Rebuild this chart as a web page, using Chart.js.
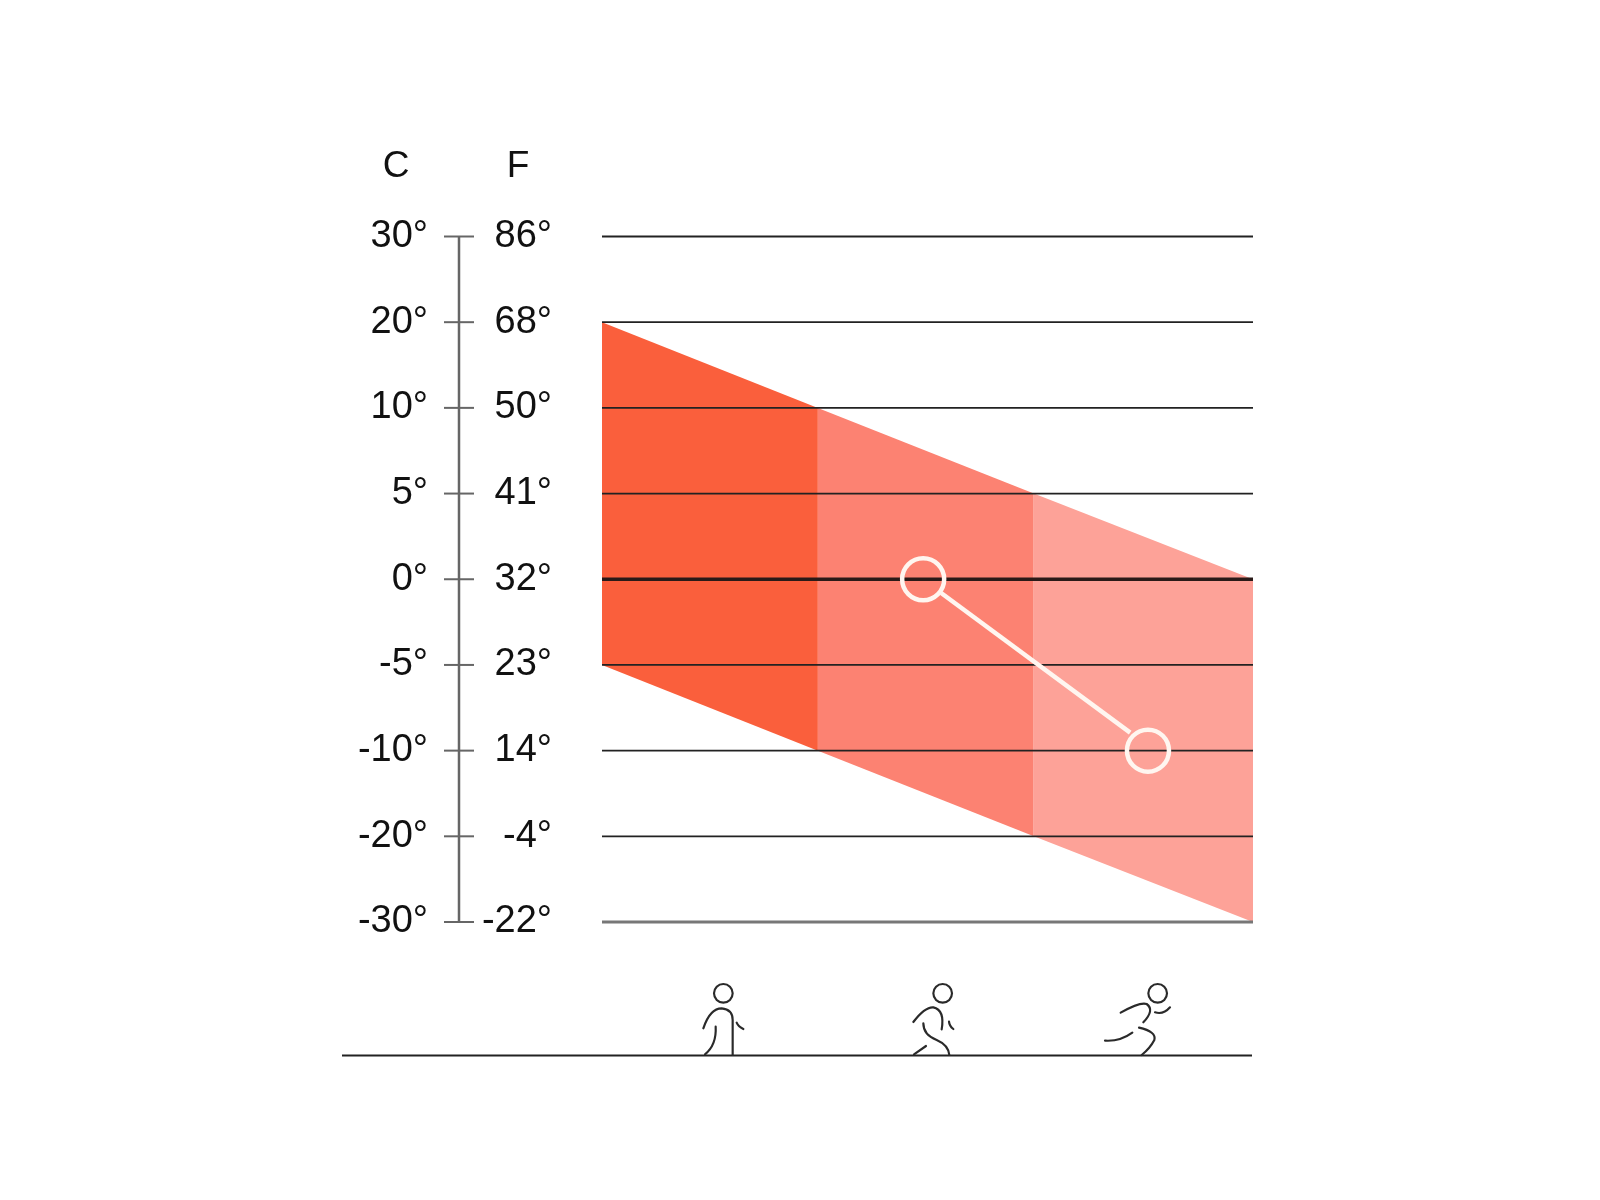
<!DOCTYPE html>
<html><head><meta charset="utf-8">
<style>html,body{margin:0;padding:0;background:#fff}#w{width:1600px;height:1200px}</style>
<script src="https://cdn.jsdelivr.net/npm/chart.js@4/dist/chart.umd.min.js"></script>
</head><body><div id="w"><canvas id="c" width="1600" height="1200"></canvas></div>
<script>
const celsiusTicks = [30, 20, 10, 5, 0, -5, -10, -20, -30];
const fahrenheitTicks = [86, 68, 50, 41, 32, 23, 14, -4, -22];
const zoneEdges = [0, 0.995, 1.99, 3];
const bandUpper = [20, 10, 5, 0];
const bandLower = [-5, -10, -20, -30];
const zoneColors = ['#FA5F3C', '#FC8272', '#FDA298'];
const markerX = [1.48, 2.516];
const markerC = [0, -10];
const connectorX = [1.563, 2.434];
const connectorRank = [4.16, 5.79];

const rank = c => celsiusTicks.indexOf(c);
const deg = v => v + '°';
const datasets = [];
datasets.push({label:'range markers', data:markerX.map((x,i)=>({x,y:rank(markerC[i])})),
  showLine:false, pointRadius:21, pointHoverRadius:21, pointBackgroundColor:'rgba(0,0,0,0)',
  pointBorderColor:'#FFF6F0', pointBorderWidth:4.5, clip:false});
datasets.push({label:'connector', data:connectorX.map((x,i)=>({x,y:connectorRank[i]})),
  borderColor:'#FFF6F0', borderWidth:4.5, pointRadius:0, clip:false});
celsiusTicks.forEach(c=>{
  const zero = c===0, last = c===-30;
  datasets.push({label:'grid '+c, data:[{x:0,y:rank(c)},{x:3,y:rank(c)}],
    borderColor: zero ? '#2a1a18' : last ? '#777' : '#222',
    borderWidth: zero ? 3.5 : last ? 3 : 1.8, pointRadius:0, clip:false});
});
zoneColors.forEach((col,i)=>{
  const xs=[zoneEdges[i],zoneEdges[i+1]];
  datasets.push({label:'zone '+i+' upper', data:xs.map((x,k)=>({x,y:rank(bandUpper[i+k])})),
    borderWidth:0, pointRadius:0, backgroundColor:col, fill:'+1'});
  datasets.push({label:'zone '+i+' lower', data:xs.map((x,k)=>({x,y:rank(bandLower[i+k])})),
    borderWidth:0, pointRadius:0, fill:false});
});

const icons = [
 {ox:660,oy:960,head:[190,100],paths:['M130 205 Q150 145 185 145 Q218 148 218 180 L218 285','M167 200 Q170 255 135 283','M230 188 Q235 200 250 207']},
 {ox:890,oy:960,head:[158,100],paths:['M70 186 Q105 140 130 142 Q165 150 155 208','M177 185 Q178 198 190 207','M100 190 Q100 225 140 240 Q175 255 178 285','M108 258 L72 283']},
 {ox:890,oy:960,head:[803,100],paths:['M692 158 Q750 125 770 132 Q795 150 760 187','M795 157 Q820 165 840 142','M747 203 Q800 215 793 240 Q780 265 755 285','M727 218 Q690 245 645 242']}
];
const decor = {id:'decor', afterDraw(ch){
  const g=ch.ctx, y=ch.scales.y;
  g.save();
  g.strokeStyle='#666'; g.lineWidth=2.5;
  g.beginPath(); g.moveTo(459,y.getPixelForValue(0)); g.lineTo(459,y.getPixelForValue(8)); g.stroke();
  g.lineWidth=2;
  celsiusTicks.forEach((c,i)=>{const p=y.getPixelForValue(i); g.beginPath(); g.moveTo(444,p); g.lineTo(474,p); g.stroke();});
  g.fillStyle='#111'; g.font='37px "Liberation Sans"'; g.textAlign='center'; g.textBaseline='middle';
  g.fillText('C',396,167); g.fillText('F',518,167);
  g.strokeStyle='#222'; g.lineWidth=2; g.beginPath(); g.moveTo(342,1055.5); g.lineTo(1252,1055.5); g.stroke();
  icons.forEach(ic=>{
    g.save(); g.translate(ic.ox,ic.oy); g.scale(1/3,1/3);
    g.lineWidth=6.5; g.lineCap='round'; g.strokeStyle='#2a2a2a';
    g.beginPath(); g.arc(ic.head[0],ic.head[1],28,0,Math.PI*2); g.stroke();
    ic.paths.forEach(p=>g.stroke(new Path2D(p)));
    g.restore();
  });
  g.restore();
}};
const tickFont={family:'"Liberation Sans"',size:38};
new Chart(document.getElementById('c'),{
  type:'line',
  data:{datasets},
  plugins:[decor],
  options:{
    responsive:false, animation:false, events:[],
    layout:{padding:{left:0,top:236.5,right:347,bottom:278}},
    plugins:{legend:{display:false},tooltip:{enabled:false}},
    scales:{
      x:{type:'linear',min:0,max:3,display:false},
      y:{type:'linear',position:'left',reverse:true,min:0,max:8,weight:2,
        afterFit(s){s.width=470;},
        grid:{display:false},border:{display:false},
        ticks:{stepSize:1,autoSkip:false,padding:34,color:'#111',font:tickFont,
          callback:(v)=>Number.isInteger(v)?deg(celsiusTicks[v]):''}},
      yF:{type:'linear',position:'left',reverse:true,min:0,max:8,weight:1,
        afterFit(s){s.width=132;},
        grid:{display:false},border:{display:false},
        ticks:{stepSize:1,autoSkip:false,padding:42,color:'#111',font:tickFont,
          callback:(v)=>Number.isInteger(v)?deg(fahrenheitTicks[v]):''}}
    }
  }
});
</script></body></html>
